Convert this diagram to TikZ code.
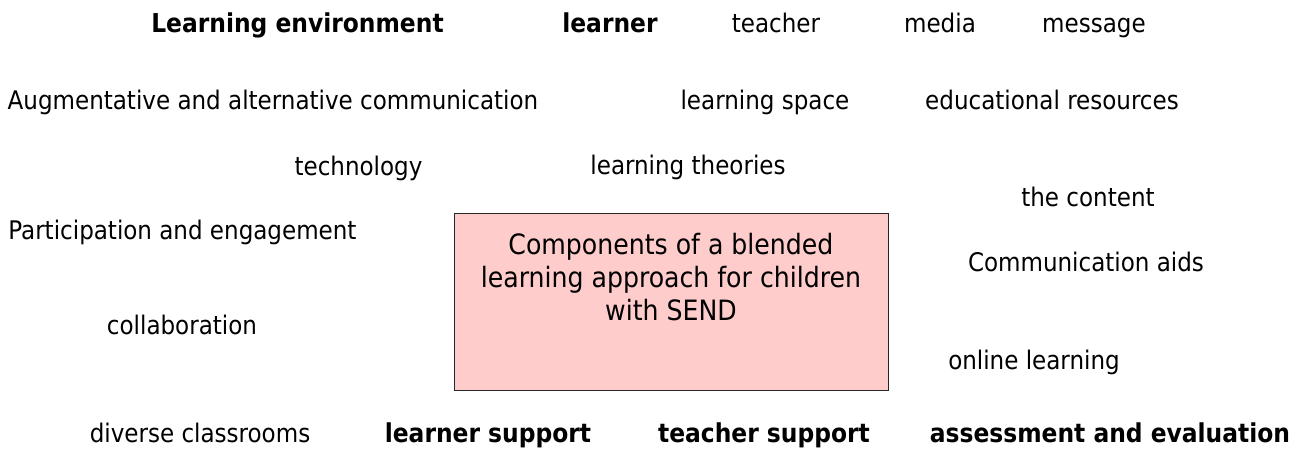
\documentclass[tikz,border=0pt]{standalone}
\usepackage{fontspec}
\setmainfont{DejaVuSansCondensed}[Extension=.ttf, BoldFont=DejaVuSansCondensed-Bold]
\usepackage{tikz}

\definecolor{pinkfill}{RGB}{255,204,204}
\tikzset{
    term/.style={anchor=base, inner sep=0pt, font=\fontsize{12.8}{15}\selectfont},
    boldterm/.style={term, font=\fontsize{13}{15}\selectfont\bfseries},
    centrebox/.style={draw=black!85, line width=0.5pt, fill=pinkfill, minimum width=217pt, minimum height=88.5pt, inner sep=0pt}
}

\begin{document}
\begin{tikzpicture}[x=0.5pt, y=-0.5pt]
        \useasboundingbox (0, 0) rectangle (1308, 453);

        \node[centrebox] (core) at (671, 302.5) {};
        \node[anchor=base, align=center, inner sep=0pt, font=\fontsize{14}{16.5}\selectfont] (coretext) at (671, 321)
            {Components of a blended\\learning approach for children\\with SEND};

        \node[boldterm] (env) at (297.5, 33) {Learning environment};
        \node[boldterm] (learner) at (610, 33) {learner};
        \node[term] (teacher) at (776, 33) {teacher};
        \node[term] (media) at (940, 33) {media};
        \node[term] (message) at (1094, 33) {message};

        \node[term] (aac) at (273, 110) {Augmentative and alternative communication};
        \node[term] (space) at (765, 110) {learning space};
        \node[term] (resources) at (1052, 110) {educational resources};

        \node[term] (tech) at (358.5, 176) {technology};
        \node[term] (theories) at (688, 175) {learning theories};
        \node[term] (content) at (1088, 207) {the content};
        \node[term] (participation) at (182.5, 240) {Participation and engagement};
        \node[term] (aids) at (1086, 272) {Communication aids};
        \node[term] (collab) at (182, 335) {collaboration};
        \node[term] (online) at (1034, 370) {online learning};

        \node[term] (diverse) at (200, 443) {diverse classrooms};
        \node[boldterm] (lsupport) at (488, 443) {learner support};
        \node[boldterm] (tsupport) at (764, 443) {teacher support};
        \node[boldterm] (assess) at (1110, 443) {assessment and evaluation};
    \end{tikzpicture}
\end{document}
